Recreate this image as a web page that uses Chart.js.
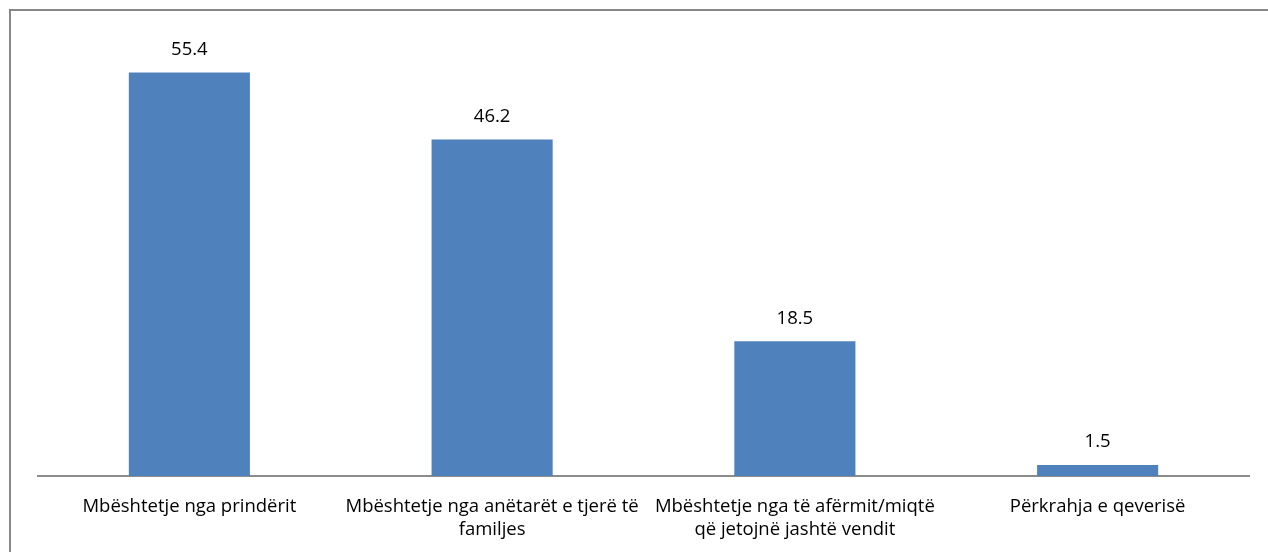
<!DOCTYPE html>
<html>
<head>
<meta charset="utf-8">
<script src="https://cdn.jsdelivr.net/npm/chart.js@4"></script>
<style>
  html, body { margin: 0; padding: 0; background: #fff; }
  #wrap { width: 1268px; height: 552px; }
</style>
</head>
<body>
<div id="wrap"><canvas id="chart" width="1268" height="552"></canvas></div>
<script>
// Chart data
const categories = [
    ["Mbështetje nga prindërit"],
    ["Mbështetje nga anëtarët e tjerë të", "familjes"],
    ["Mbështetje nga të afërmit/miqtë", "që jetojnë jashtë vendit"],
    ["Përkrahja e qeverisë"]
];
const values = [55.4, 46.2, 18.5, 1.5];

const FONT = "'Open Sans', sans-serif";

// frame around the chart (left + top edge visible)
const framePlugin = {
    id: "frame",
    beforeDraw(chart) {
        const c = chart.ctx;
        c.save();
        c.strokeStyle = "#888888";
        c.lineWidth = 2;
        c.beginPath();
        c.moveTo(10, 552);
        c.lineTo(10, 10);
        c.lineTo(1268, 10);
        c.stroke();
        c.restore();
    }
};

// value labels above bars
const valueLabels = {
    id: "valueLabels",
    afterDatasetsDraw(chart) {
        const c = chart.ctx;
        const meta = chart.getDatasetMeta(0);
        c.save();
        c.fillStyle = "#000";
        c.font = "18.5px " + FONT;
        c.textAlign = "center";
        c.textBaseline = "middle";
        meta.data.forEach((bar, i) => {
            c.fillText(values[i].toFixed(1), bar.x, bar.y - 23);
        });
        c.restore();
    }
};

const ctx = document.getElementById("chart").getContext("2d");
new Chart(ctx, {
    type: "bar",
    data: {
        labels: categories,
        datasets: [{
            data: values,
            backgroundColor: "#4F81BD",
            borderWidth: 0,
            barPercentage: 0.4,
            categoryPercentage: 1
        }]
    },
    options: {
        responsive: false,
        animation: false,
        layout: { padding: { left: 38, right: 19, top: 39, bottom: 0 } },
        plugins: { legend: { display: false }, tooltip: { enabled: false } },
        scales: {
            y: { display: false, min: 0, max: 60 },
            x: {
                grid: { display: false },
                border: { display: true, color: "#8c8c8c", width: 2 },
                ticks: {
                    color: "#000",
                    font: { family: FONT, size: 18.5, lineHeight: 1.25 },
                    padding: 11,
                    maxRotation: 0,
                    autoSkip: false
                },
                afterFit(scale) { scale.height = 76; }
            }
        }
    },
    plugins: [framePlugin, valueLabels]
});
</script>
</body>
</html>
